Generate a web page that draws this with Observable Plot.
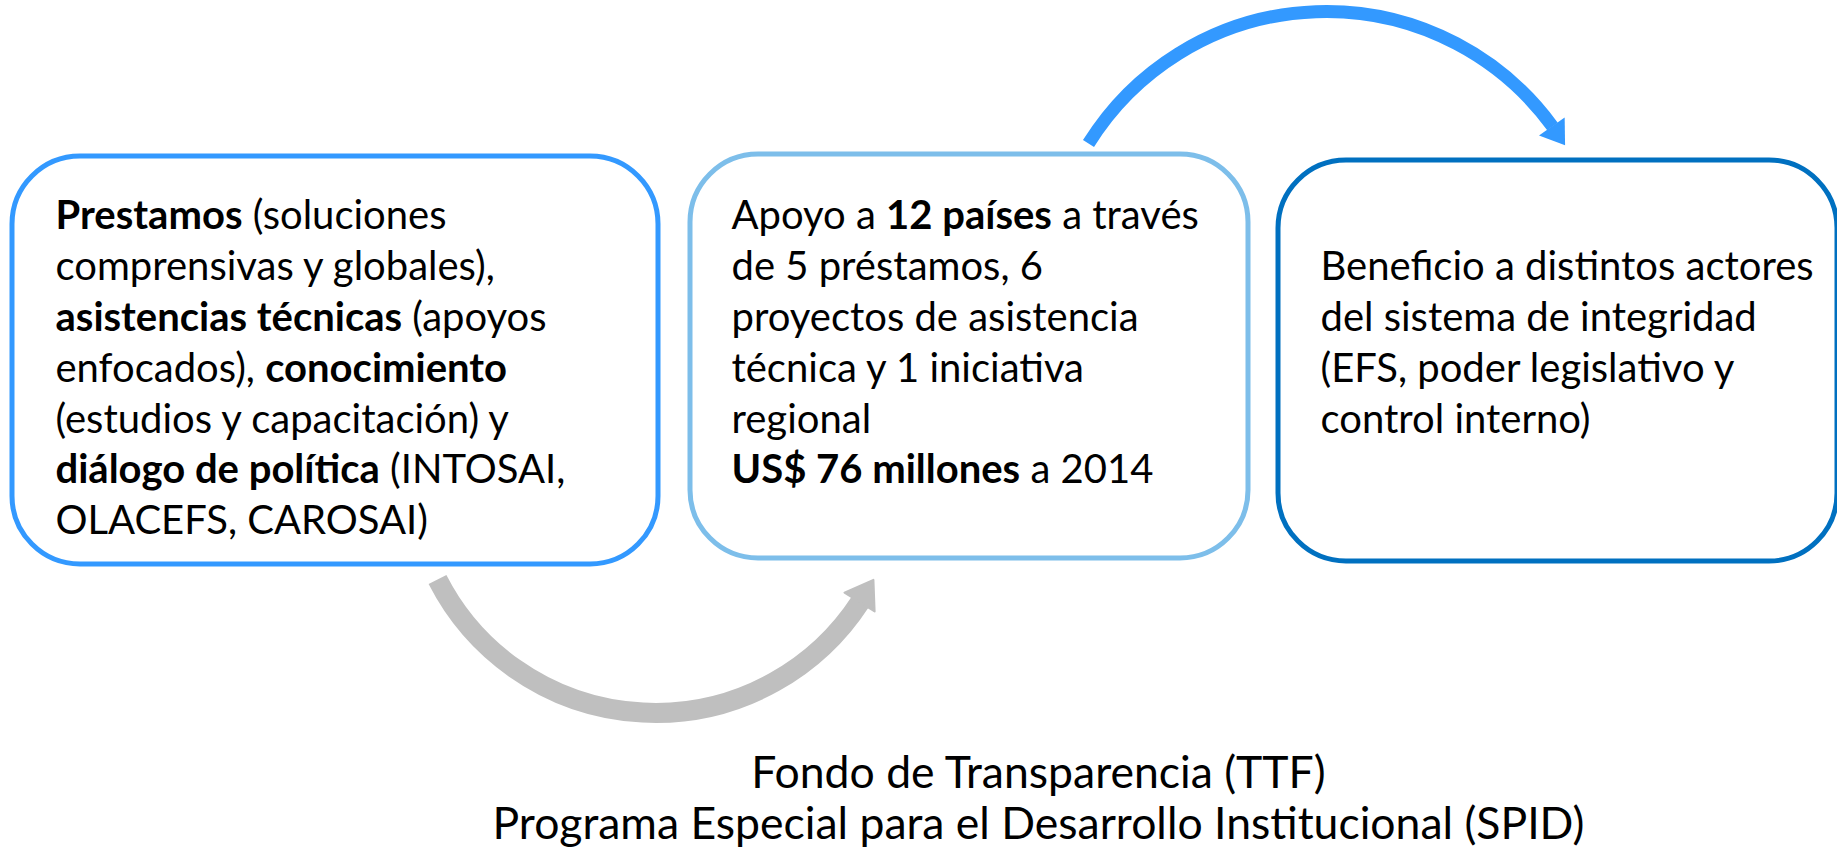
<!DOCTYPE html>
<html>
<head>
<meta charset="utf-8">
<script src="https://cdn.jsdelivr.net/npm/d3@7"></script>
<script src="https://cdn.jsdelivr.net/npm/@observablehq/plot@0.6"></script>
<style>
  html, body { margin: 0; padding: 0; background: #fff; }
  #chart svg { display: block; }
</style>
</head>
<body>
<div id="chart"></div>
<script>
// ---------- content ----------
const boxNames = ["Instrumentos", "Alcance", "Beneficiarios"];
const box1Lines = [
  "**Prestamos** (soluciones",
  "comprensivas y globales),",
  "**asistencias técnicas** (apoyos",
  "enfocados), **conocimiento**",
  "(estudios y capacitación) y",
  "**diálogo de política** (INTOSAI,",
  "OLACEFS, CAROSAI)"
];
const box2Lines = [
  "Apoyo a **12 países** a través",
  "de 5 préstamos, 6",
  "proyectos de asistencia",
  "técnica y 1 iniciativa",
  "regional",
  "**US$ 76 millones** a 2014"
];
const box3Lines = [
  "Beneficio a distintos actores",
  "del sistema de integridad",
  "(EFS, poder legislativo y",
  "control interno)"
];
const footerLines = [
  "Fondo de Transparencia (TTF)",
  "Programa Especial para el Desarrollo Institucional (SPID)"
];

// ---------- layout (diagram coordinates, 1837 x 848) ----------
const W = 1837, H = 848;
const boxX1 = [12, 690, 1278];
const boxX2 = [658, 1248, 1837];
const boxY1 = [156, 154, 160];
const boxY2 = [564, 558, 561];
const boxColors = ["#3399FF", "#7DBEEA", "#0070C0"];
const textX = [55, 731, 1320];
const textY0 = [216, 216, 267];
const lineStep = 50.8;
const fontSize = 40;
const footerX = 1038, footerY = [773, 824], footerSize = 44.5;
const FONT = "Lato";

const ctx = document.createElement("canvas").getContext("2d");
function measure(t, bold, size) {
  ctx.font = `${bold ? 700 : 400} ${size}px ${FONT}`;
  return ctx.measureText(t).width;
}
function segments(lines, x0, y0, step, size) {
  const out = [];
  lines.forEach((line, i) => {
    let x = x0;
    line.split("**").forEach((part, j) => {
      if (!part) return;
      const bold = j % 2 === 1;
      const lead = part.match(/^\s*/)[0];
      out.push({text: part.trim(), bold, x: x + measure(lead, bold, size), y: y0 + i * step});
      x += measure(part, bold, size);
    });
  });
  return out;
}
const allLines = [box1Lines, box2Lines, box3Lines];
const segs = allLines.flatMap((lines, i) => segments(lines, textX[i], textY0[i], lineStep, fontSize));

const boxes = boxNames.map((name, i) => ({name, x1: boxX1[i], x2: boxX2[i], y1: boxY1[i], y2: boxY2[i], color: boxColors[i]}));
const footer = footerLines.map((t, i) => ({text: t, x: footerX, y: footerY[i]}));

// arrows
const greyArrow = [{x1: 437, y1: 579, x2: 860, y2: 601}];
const blueArrow = [{x1: 1088, y1: 143, x2: 1552, y2: 126}];
const greyHead = [{x: 865, y: 592}];
const blueHead = [{x: 1557, y: 134}];

const arrowHead = {
  draw(context, size) {
    const s = Math.sqrt(size / Math.PI);
    context.moveTo(0, -0.8 * s);
    context.lineTo(0.95 * s, 0.6 * s);
    context.lineTo(-0.95 * s, 0.6 * s);
    context.closePath();
  }
};

const chart = Plot.plot({
  width: W,
  height: H,
  margin: 0,
  x: {domain: [0, W], range: [0, W], axis: null},
  y: {domain: [0, H], range: [0, H], axis: null},
  style: {background: "#fff"},
  marks: [
    Plot.rect(boxes, {x1: "x1", x2: "x2", y1: "y1", y2: "y2", rx: 68, fill: "#fff", stroke: d => d.color, strokeWidth: 5}),
    Plot.arrow(greyArrow, {x1: "x1", y1: "y1", x2: "x2", y2: "y2", bend: -60, headLength: 0, stroke: "#BFBFBF", strokeWidth: 20, strokeLinecap: "butt"}),
    Plot.dot(greyHead, {x: "x", y: "y", symbol: arrowHead, r: 18.7, rotate: 32, fill: "#BFBFBF", stroke: "#BFBFBF", strokeWidth: 2, strokeLinejoin: "round"}),
    Plot.arrow(blueArrow, {x1: "x1", y1: "y1", x2: "x2", y2: "y2", bend: 56, headLength: 0, stroke: "#3399FF", strokeWidth: 13, strokeLinecap: "butt"}),
    Plot.dot(blueHead, {x: "x", y: "y", symbol: arrowHead, r: 16.5, rotate: 145, fill: "#3399FF"}),
    Plot.text(segs.filter(d => !d.bold), {x: "x", y: "y", text: "text", textAnchor: "start", fontFamily: FONT, fontSize, fill: "#000"}),
    Plot.text(segs.filter(d => d.bold), {x: "x", y: "y", text: "text", textAnchor: "start", fontFamily: FONT, fontSize, fontWeight: 700, fill: "#000"}),
    Plot.text(footer, {x: "x", y: "y", text: "text", textAnchor: "middle", fontFamily: FONT, fontSize: footerSize, fill: "#000"})
  ]
});
document.getElementById("chart").appendChild(chart);
</script>
</body>
</html>
